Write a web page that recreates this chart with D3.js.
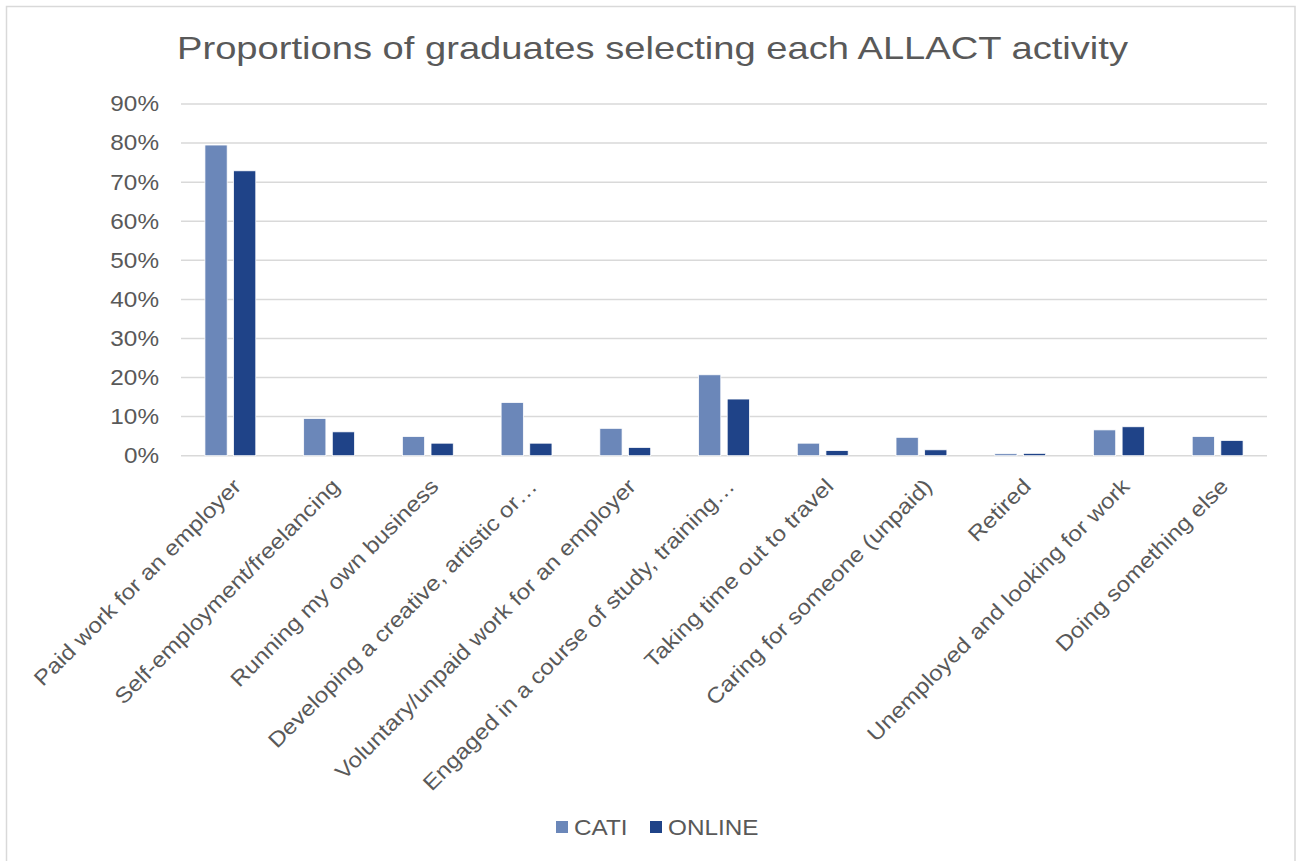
<!DOCTYPE html>
<html>
<head>
<meta charset="utf-8">
<script src="https://cdn.jsdelivr.net/npm/d3@7"></script>
<style>
  html, body { margin: 0; padding: 0; background: #fff; }
  svg { display: block; font-family: "Liberation Sans", Arial, sans-serif; }
</style>
</head>
<body>
<svg id="chart" width="1297" height="861"></svg>
<script>
// Activity categories (long labels shortened with an ellipsis as on the axis)
const categories = [
  "Paid work for an employer",
  "Self-employment/freelancing",
  "Running my own business",
  "Developing a creative, artistic or\u2026",
  "Voluntary/unpaid work for an employer",
  "Engaged in a course of study, training\u2026",
  "Taking time out to travel",
  "Caring for someone (unpaid)",
  "Retired",
  "Unemployed and looking for work",
  "Doing something else"
];

const seriesNames = ["CATI", "ONLINE"];

// Share of graduates selecting each activity (%)
const catiValues   = [79.5, 9.5, 4.9, 13.6, 7.0, 20.7, 3.2, 4.7, 0.5, 6.6, 4.9];
const onlineValues = [72.9, 6.1, 3.2, 3.2, 2.1, 14.5, 1.3, 1.5, 0.6, 7.4, 3.9];

const yTicks = [0, 10, 20, 30, 40, 50, 60, 70, 80, 90];

const colors = { CATI: "#6b87b9", ONLINE: "#1f4388" };
const textColor = "#595959";
const labelSize = 21.5;
const widen = 1.13; // the chart face is set slightly wide

// Stretch text horizontally by a factor, keeping its anchor
function stretch(sel, k) {
  sel.each(function () {
    const w = this.getComputedTextLength();
    d3.select(this)
      .attr("textLength", w * k)
      .attr("lengthAdjust", "spacingAndGlyphs");
  });
}

const svg = d3.select("#chart");

// Outer chart frame
svg.append("rect")
  .attr("x", 6.5).attr("y", 6.5)
  .attr("width", 1288.5).attr("height", 870)
  .attr("fill", "#fff")
  .attr("stroke", "#d9d9d9").attr("stroke-width", 1.5);

// Title
svg.append("text")
  .attr("x", 177).attr("y", 58.5)
  .attr("fill", textColor)
  .attr("font-size", 32)
  .attr("textLength", 951)
  .attr("lengthAdjust", "spacingAndGlyphs")
  .text("Proportions of graduates selecting each ALLACT activity");

const plot = { left: 181, right: 1267, top: 104, bottom: 455.7 };

const x = d3.scaleBand()
  .domain(categories)
  .range([plot.left, plot.right])
  .paddingInner(0).paddingOuter(0);

const y = d3.scaleLinear()
  .domain([0, 90])
  .range([plot.bottom, plot.top]);

// Horizontal gridlines
svg.append("g")
  .selectAll("line")
  .data(yTicks)
  .join("line")
  .attr("x1", plot.left).attr("x2", plot.right)
  .attr("y1", d => y(d)).attr("y2", d => y(d))
  .attr("stroke", "#d9d9d9").attr("stroke-width", 1.5);

// Y axis labels
const yAxis = d3.axisLeft(y)
  .tickValues(yTicks)
  .tickFormat(d => d + "%")
  .tickSize(0)
  .tickPadding(0);

svg.append("g")
  .attr("transform", `translate(${plot.left - 22},0)`)
  .call(yAxis)
  .call(g => g.select(".domain").remove())
  .call(g => g.selectAll("text")
    .attr("fill", textColor)
    .attr("font-size", labelSize)
    .attr("font-family", "Liberation Sans, Arial, sans-serif")
    .call(stretch, widen));

// Bars: two series side by side inside each category band
const bw = x.bandwidth();
const barW = bw * 0.225;
const barGap = bw * 0.065;
const inner = d3.scaleOrdinal()
  .domain(seriesNames)
  .range([bw / 2 - barGap / 2 - barW, bw / 2 + barGap / 2]);

const rows = categories.map((c, i) => ({
  cat: c,
  vals: [
    { s: "CATI", v: catiValues[i] },
    { s: "ONLINE", v: onlineValues[i] }
  ]
}));

svg.append("g")
  .selectAll("g")
  .data(rows)
  .join("g")
  .attr("transform", d => `translate(${x(d.cat)},0)`)
  .selectAll("rect")
  .data(d => d.vals)
  .join("rect")
  .attr("x", d => inner(d.s))
  .attr("width", barW)
  .attr("y", d => y(d.v))
  .attr("height", d => y(0) - y(d.v))
  .attr("fill", d => colors[d.s])
  .attr("stroke", "#ffffff")
  .attr("stroke-width", 0.75);

// X axis category labels, rotated 45 degrees
const xAxis = d3.axisBottom(x).tickSize(0).tickPadding(0);
svg.append("g")
  .attr("transform", `translate(0,${plot.bottom})`)
  .call(xAxis)
  .call(g => g.select(".domain").remove())
  .call(g => g.selectAll("text")
    .attr("fill", textColor)
    .attr("font-size", labelSize)
    .attr("font-family", "Liberation Sans, Arial, sans-serif")
    .attr("text-anchor", "end")
    .attr("dy", null)
    .attr("y", 0)
    .attr("transform", "translate(12,32) rotate(-45)")
    .call(stretch, widen));

// Legend
const legendItems = [
  { name: "CATI", sx: 556, tx: 574 },
  { name: "ONLINE", sx: 650, tx: 668 }
];
const lg = svg.append("g");
lg.selectAll("rect")
  .data(legendItems)
  .join("rect")
  .attr("x", d => d.sx).attr("y", 821)
  .attr("width", 12).attr("height", 12)
  .attr("fill", d => colors[d.name]);
lg.selectAll("text")
  .data(legendItems)
  .join("text")
  .attr("x", d => d.tx).attr("y", 834.5)
  .attr("fill", textColor)
  .attr("font-size", labelSize)
  .text(d => d.name)
  .call(stretch, widen);
</script>
</body>
</html>
